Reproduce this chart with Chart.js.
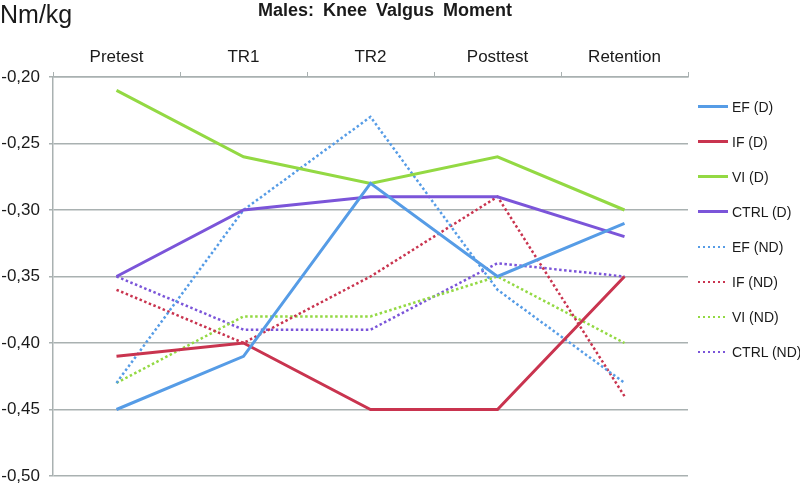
<!DOCTYPE html>
<html>
<head>
<meta charset="utf-8">
<title>Males: Knee Valgus Moment</title>
<script src="https://cdn.jsdelivr.net/npm/chart.js@4.4.0/dist/chart.umd.min.js"></script>
<style>
    body { margin: 0; background: #fff; font-family: "Liberation Sans", Arial, sans-serif; color: #1a1a1a; }
    #wrap { position: relative; width: 800px; height: 484px; overflow: hidden; }
    #unit { position: absolute; left: 0; top: 0; font-size: 25px; }
    #title { position: absolute; left: 0; top: 0; width: 770px; text-align: center; font-size: 18px; font-weight: bold; word-spacing: 4px; }
    #legend { position: absolute; left: 698px; top: 89px; font-size: 14px; white-space: nowrap; }
    .item { height: 35px; display: flex; align-items: center; }
    .sample { width: 30px; margin-right: 4px; flex: none; }
</style>
</head>
<body>
<div id="wrap">
    <canvas id="kneeChart"></canvas>
    <div id="unit">Nm/kg</div>
    <div id="title">Males: Knee Valgus Moment</div>
    <div id="legend"></div>
</div>
<script>
// values
const categories = ['Pretest', 'TR1', 'TR2', 'Posttest', 'Retention'];
const seriesNames = ['EF (D)', 'IF (D)', 'VI (D)', 'CTRL (D)', 'EF (ND)', 'IF (ND)', 'VI (ND)', 'CTRL (ND)'];

const efD    = [-0.45, -0.41, -0.28, -0.35, -0.31];
const ifD    = [-0.41, -0.40, -0.45, -0.45, -0.35];
const viD    = [-0.21, -0.26, -0.28, -0.26, -0.30];
const ctrlD  = [-0.35, -0.30, -0.29, -0.29, -0.32];
const efND   = [-0.43, -0.30, -0.23, -0.36, -0.43];
const ifND   = [-0.36, -0.40, -0.35, -0.29, -0.44];
const viND   = [-0.43, -0.38, -0.38, -0.35, -0.40];
const ctrlND = [-0.35, -0.39, -0.39, -0.34, -0.35];

const yMin = -0.50;
const yMax = -0.20;
const yStep = 0.05;

const colors = {
    ef: '#569ce6',
    if: '#c9344f',
    vi: '#93d943',
    ctrl: '#7b55d9'
};
const gridColor = '#a9b1b1';

function solid(label, data, color) {
    return { label, data, borderColor: color, backgroundColor: color, borderWidth: 3, pointRadius: 0, tension: 0 };
}

function dotted(label, data, color) {
    return { label, data, borderColor: color, backgroundColor: color, borderWidth: 2.5, borderDash: [2.5, 2.5], pointRadius: 0, tension: 0 };
}

const datasets = [
    solid(seriesNames[0], efD, colors.ef),
    solid(seriesNames[1], ifD, colors.if),
    solid(seriesNames[2], viD, colors.vi),
    solid(seriesNames[3], ctrlD, colors.ctrl),
    dotted(seriesNames[4], efND, colors.ef),
    dotted(seriesNames[5], ifND, colors.if),
    dotted(seriesNames[6], viND, colors.vi),
    dotted(seriesNames[7], ctrlND, colors.ctrl)
];

const chart = new Chart(document.getElementById('kneeChart'), {
    type: 'line',
    data: { labels: categories, datasets },
    options: {
        responsive: true,
        maintainAspectRatio: false,
        animation: false,
        layout: { padding: { top: 40, right: 112, bottom: 8, left: 0 } },
        plugins: {
            legend: { display: false },
            title: { display: false },
            tooltip: { enabled: false }
        },
        scales: {
            x: {
                position: 'top',
                offset: true,
                afterFit: (scale) => { scale.height = 37; },
                grid: { drawOnChartArea: false, drawTicks: true, tickLength: 5, color: gridColor, offset: true },
                border: { color: gridColor, width: 1.5 },
                ticks: { color: '#1a1a1a', padding: 4, font: { family: '"Liberation Sans", Arial', size: 17 } }
            },
            y: {
                min: yMin,
                max: yMax,
                afterFit: (scale) => {
                    scale.width = 53;
                    // let the bottom tick label run off the edge like the original
                    scale.paddingTop = 0;
                    scale.paddingBottom = 0;
                },
                grid: { color: gridColor, lineWidth: 1.5, tickLength: 4 },
                border: { color: gridColor, width: 1.5 },
                ticks: {
                    stepSize: yStep,
                    color: '#1a1a1a',
                    padding: 9,
                    font: { family: '"Liberation Sans", Arial', size: 17 },
                    callback: (v) => v.toFixed(2).replace('.', ',')
                }
            }
        }
    }
});

// html legend built from the datasets
const legendBox = document.getElementById('legend');
chart.data.datasets.forEach((ds) => {
    const item = document.createElement('div');
    item.className = 'item';
    const sample = document.createElement('span');
    sample.className = 'sample';
    if (ds.borderDash) {
        sample.style.height = '2px';
        sample.style.background = `repeating-linear-gradient(to right, ${ds.borderColor} 0 2px, transparent 2px 5px)`;
    } else {
        sample.style.height = '3px';
        sample.style.background = ds.borderColor;
    }
    const text = document.createElement('span');
    text.textContent = ds.label;
    item.appendChild(sample);
    item.appendChild(text);
    legendBox.appendChild(item);
});
</script>
</body>
</html>
